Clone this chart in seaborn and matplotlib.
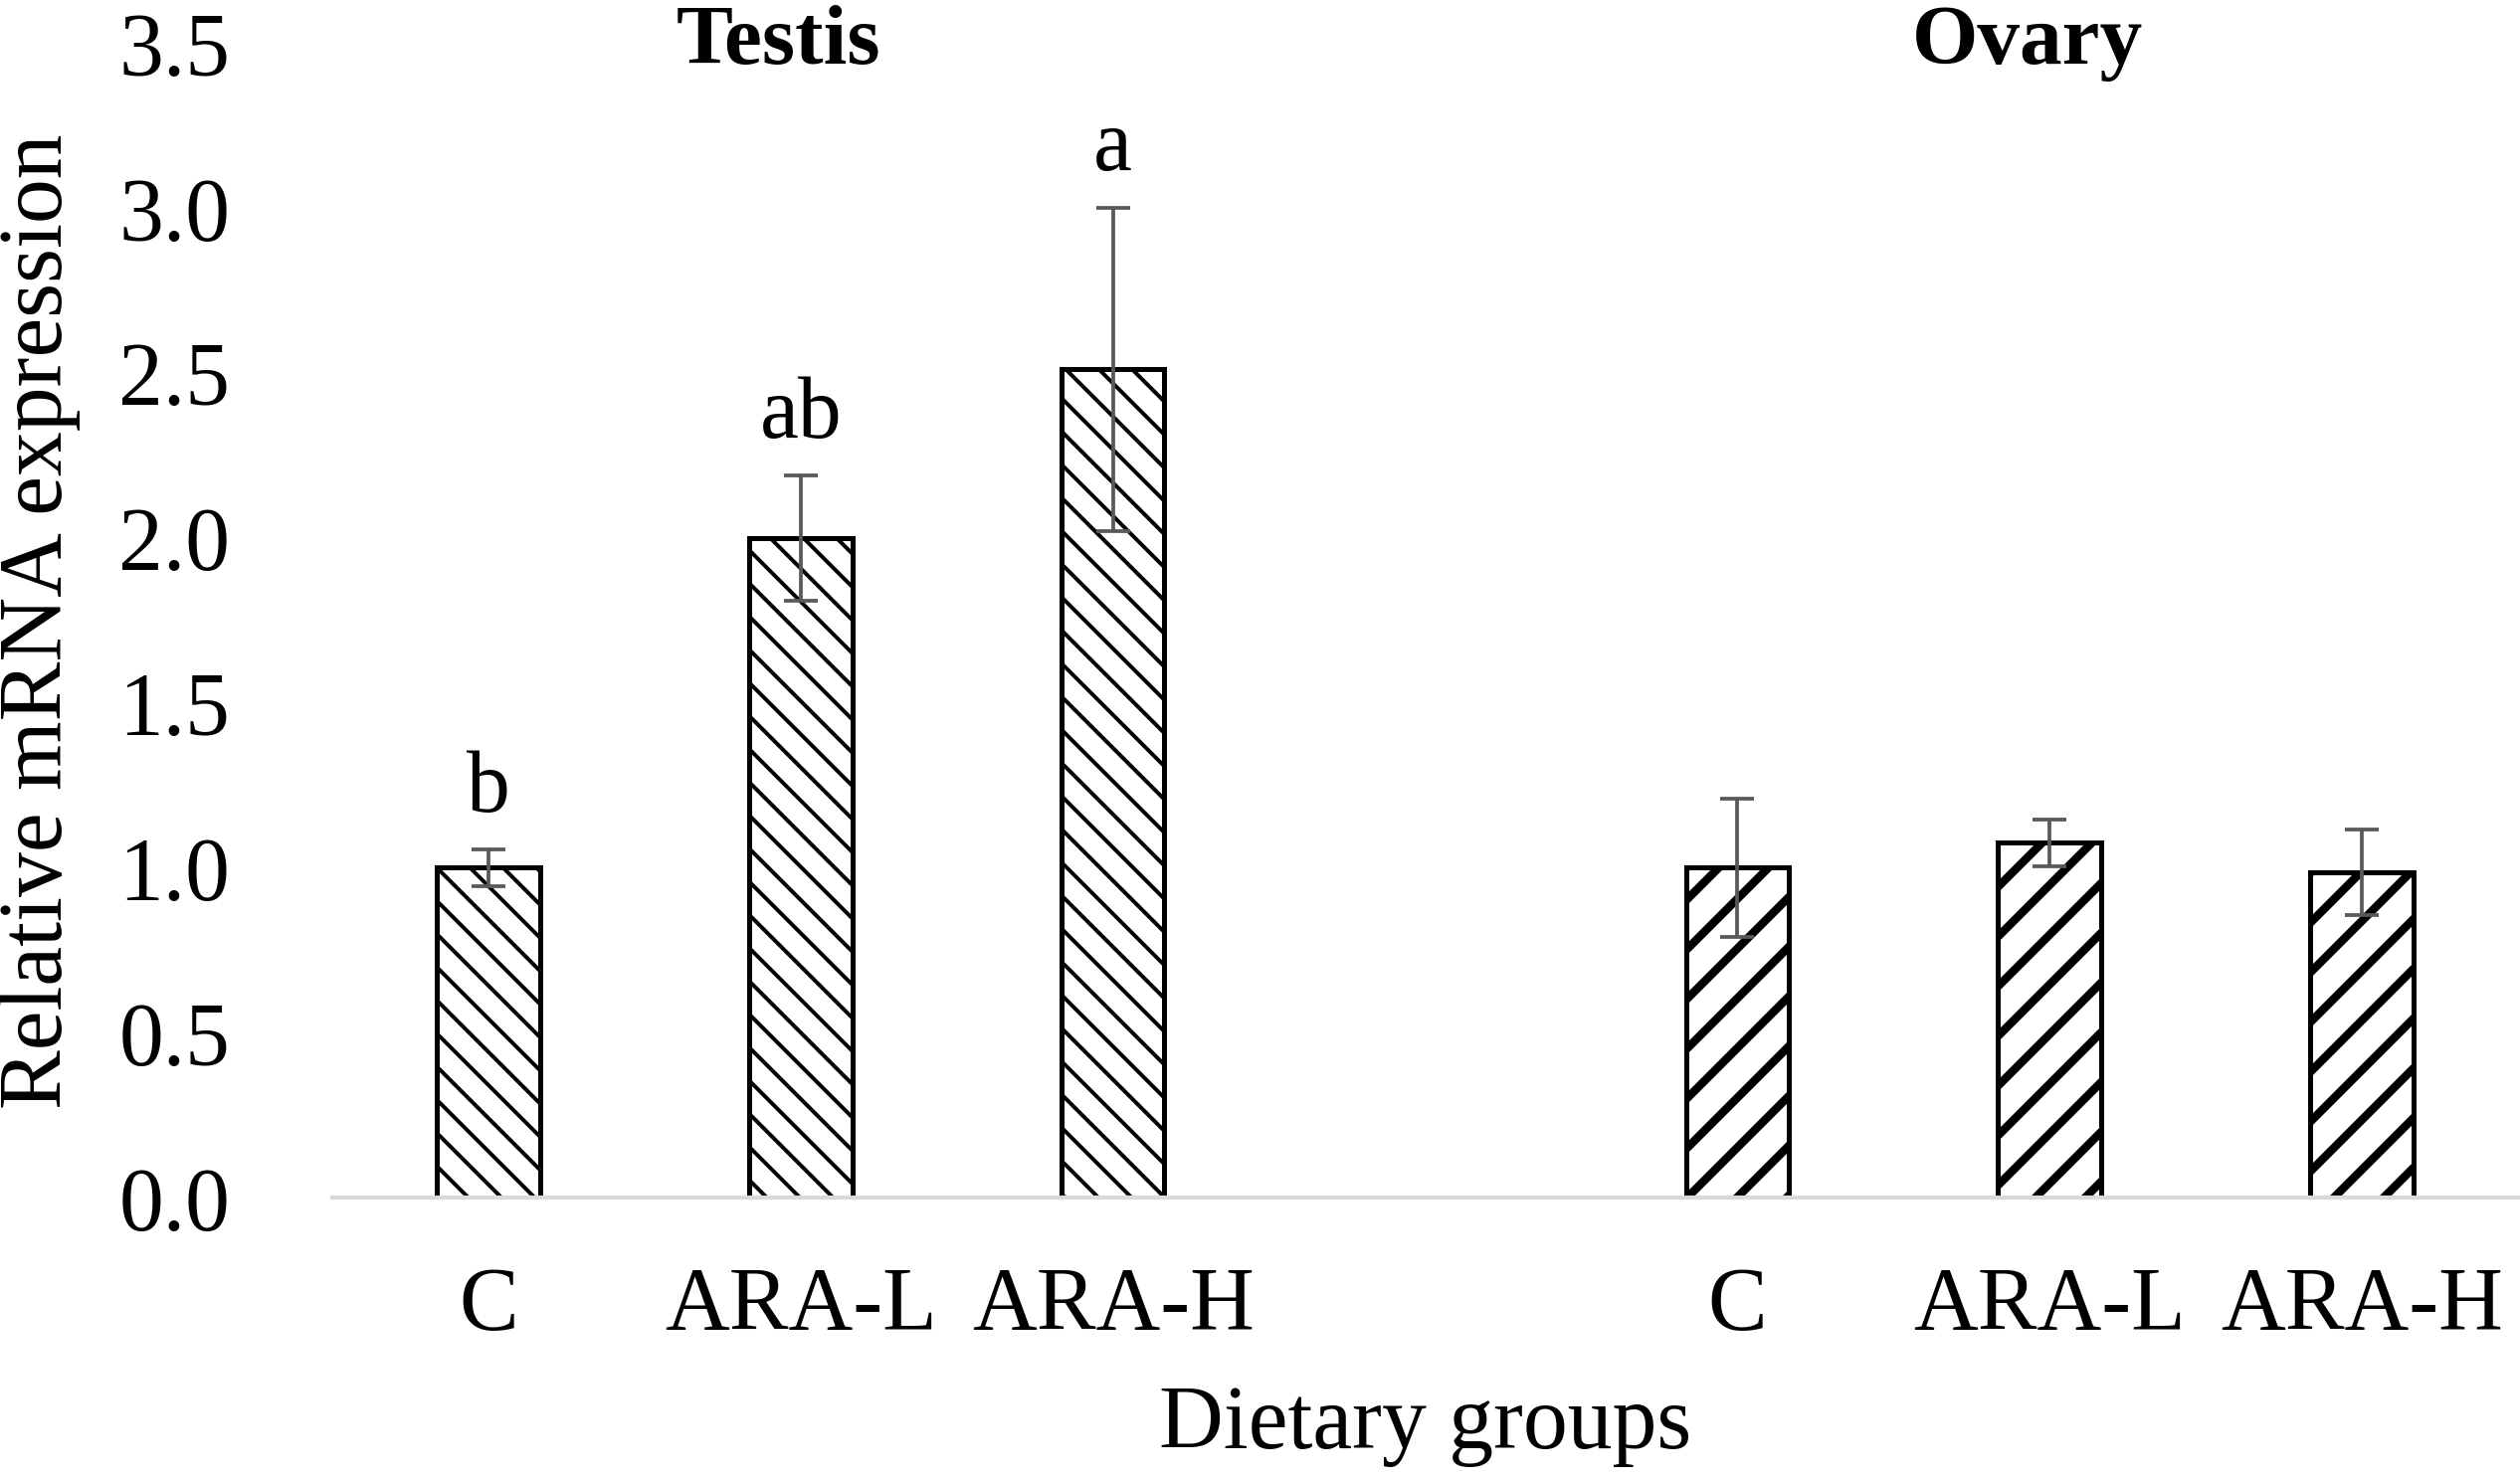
import pandas as pd
import numpy as np
import matplotlib
matplotlib.use("Agg")
import matplotlib.pyplot as plt
import seaborn as sns

# values
groups = ["C", "ARA-L", "ARA-H"]
tissues = ["Testis", "Ovary"]
testis_mean = [1.00, 2.00, 2.51]
testis_err = [0.055, 0.19, 0.49]
ovary_mean = [1.00, 1.075, 0.985]
ovary_err = [0.21, 0.072, 0.13]
testis_letters = ["b", "ab", "a"]
yticks = [0.0, 0.5, 1.0, 1.5, 2.0, 2.5, 3.0, 3.5]

# one empty slot between the two tissues, as in the original
slots = [f"T_{g}" for g in groups] + ["gap"] + [f"O_{g}" for g in groups]
tick_labels = groups + [""] + groups

df = pd.DataFrame({
    "slot": [f"T_{g}" for g in groups] + [f"O_{g}" for g in groups],
    "tissue": ["Testis"] * 3 + ["Ovary"] * 3,
    "value": testis_mean + ovary_mean,
    "err": testis_err + ovary_err,
})

sns.set_theme(style="white")
plt.rcParams["font.family"] = ["Liberation Serif", "DejaVu Serif"]
for key in ["text.color", "axes.labelcolor", "xtick.color", "ytick.color"]:
    plt.rcParams[key] = "black"

DPI = 300
fig = plt.figure(figsize=(2533 / DPI, 1489 / DPI), dpi=DPI)
ax = fig.add_axes([334 / 2533, 1 - 1205 / 1489, 2197 / 2533, (1205 - 44) / 1489])

sns.barplot(data=df, x="slot", y="value", order=slots, color="white",
            width=0.33, edgecolor="black", linewidth=1.2, saturation=1,
            errorbar=None, ax=ax)

# hatching: dense dotted diagonals for testis, bold stripes for ovary
bars = [p for p in ax.patches if p.get_height() > 0]
for p, tissue in zip(bars, df["tissue"]):
    if tissue == "Testis":
        p.set_hatch("\\\\\\")
        if hasattr(p, "set_hatch_linewidth"):
            p.set_hatch_linewidth(0.95)
    else:
        p.set_hatch("//")
        if hasattr(p, "set_hatch_linewidth"):
            p.set_hatch_linewidth(2.0)

xpos = [p.get_x() + p.get_width() / 2 for p in bars]
ax.errorbar(xpos, df["value"], yerr=df["err"], fmt="none", ecolor="#595959",
            elinewidth=0.9, capsize=4.0, capthick=0.9, zorder=5)

# significance letters above testis bars
for x, v, e, lab in zip(xpos[:3], testis_mean, testis_err, testis_letters):
    ax.text(x, v + e + 0.06, lab, ha="center", va="bottom", fontsize=21)

# tissue titles
ax.text(1 - 0.07, 3.5, "Testis", ha="center", va="center", fontsize=20.5,
        fontweight="bold")
ax.text(5 - 0.07, 3.5, "Ovary", ha="center", va="center", fontsize=20.5,
        fontweight="bold")

ax.set_xlim(-0.5, 6.5)
ax.set_ylim(0, 3.5)
ax.set_yticks(yticks)
ax.set_yticklabels([f"{t:.1f}" for t in yticks])
ax.set_xticks(range(len(slots)))
ax.set_xticklabels(tick_labels)
ax.tick_params(axis="y", length=0, pad=24.7, labelsize=21.5)
ax.tick_params(axis="x", length=0, pad=16.5, labelsize=21.5)

ax.set_ylabel("Relative mRNA expression", fontsize=21.5)
ax.yaxis.label.set_va("center")
ax.yaxis.set_label_coords(-0.1338, 0.5)
ax.set_xlabel("Dietary groups", fontsize=21.5)
ax.xaxis.label.set_va("center")
ax.xaxis.set_label_coords(0.5, -0.197)

for s in ["top", "right", "left"]:
    ax.spines[s].set_visible(False)
ax.spines["bottom"].set_color("#d9d9d9")
ax.spines["bottom"].set_linewidth(1.0)
ax.grid(False)

fig.savefig("out.png", dpi=DPI, facecolor="white")
